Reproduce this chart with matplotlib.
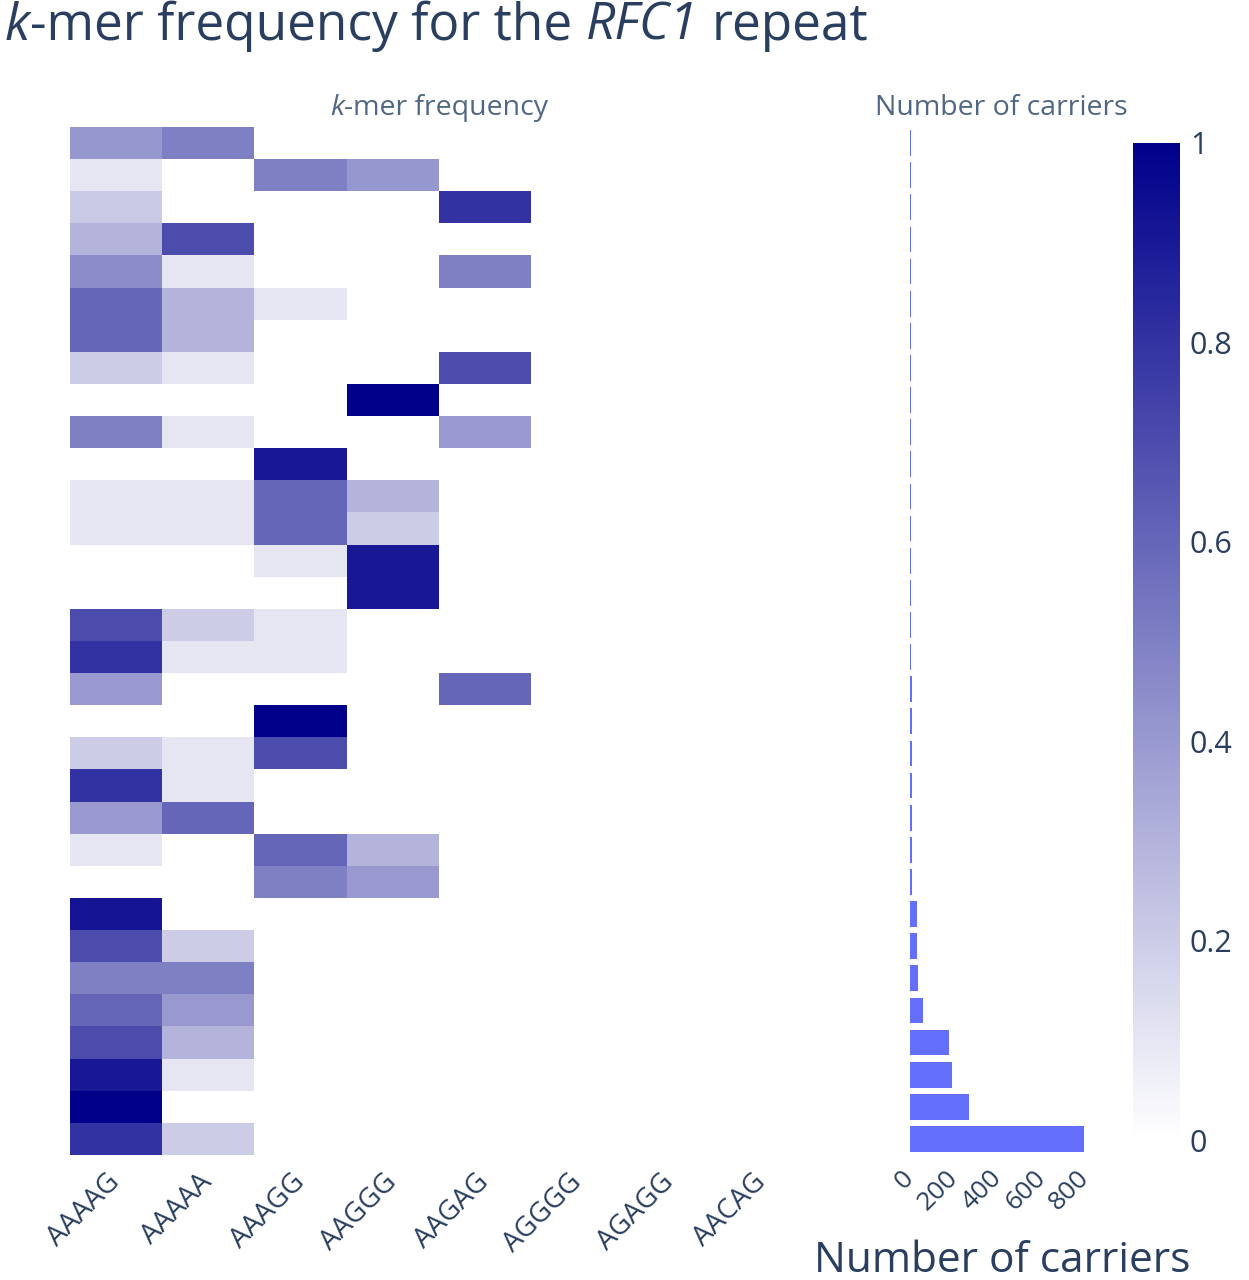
import numpy as np
import matplotlib
matplotlib.use("Agg")
import matplotlib.pyplot as plt
from matplotlib.colors import LinearSegmentedColormap

plt.rcParams['font.family'] = ['Open Sans', 'DejaVu Sans']

# ---------------- data ----------------
kmers = ["AAAAG", "AAAAA", "AAAGG", "AAGGG", "AAGAG", "AGGGG", "AGAGG", "AACAG"]

# k-mer frequency per repeat configuration (32 rows, top to bottom)
freq_AAAAG = [0.41, 0.10, 0.21, 0.30, 0.45, 0.60, 0.60, 0.20, 0.00, 0.50, 0.00, 0.10, 0.10, 0.00, 0.00, 0.70,
              0.80, 0.40, 0.00, 0.20, 0.80, 0.40, 0.10, 0.00, 0.92, 0.70, 0.50, 0.60, 0.70, 0.90, 1.00, 0.80]
freq_AAAAA = [0.50, 0.00, 0.00, 0.70, 0.10, 0.30, 0.30, 0.10, 0.00, 0.10, 0.00, 0.10, 0.10, 0.00, 0.00, 0.20,
              0.10, 0.00, 0.00, 0.10, 0.10, 0.60, 0.00, 0.00, 0.00, 0.20, 0.50, 0.40, 0.30, 0.10, 0.00, 0.20]
freq_AAAGG = [0.00, 0.50, 0.00, 0.00, 0.00, 0.10, 0.00, 0.00, 0.00, 0.00, 0.90, 0.60, 0.60, 0.10, 0.00, 0.10,
              0.10, 0.00, 1.00, 0.70, 0.00, 0.00, 0.60, 0.50, 0.00, 0.00, 0.00, 0.00, 0.00, 0.00, 0.00, 0.00]
freq_AAGGG = [0.00, 0.41, 0.00, 0.00, 0.00, 0.00, 0.00, 0.00, 1.00, 0.00, 0.00, 0.30, 0.20, 0.90, 0.90, 0.00,
              0.00, 0.00, 0.00, 0.00, 0.00, 0.00, 0.30, 0.40, 0.00, 0.00, 0.00, 0.00, 0.00, 0.00, 0.00, 0.00]
freq_AAGAG = [0.00, 0.00, 0.80, 0.00, 0.50, 0.00, 0.00, 0.70, 0.00, 0.40, 0.00, 0.00, 0.00, 0.00, 0.00, 0.00,
              0.00, 0.60, 0.00, 0.00, 0.00, 0.00, 0.00, 0.00, 0.00, 0.00, 0.00, 0.00, 0.00, 0.00, 0.00, 0.00]
freq_AGGGG = [0.0] * 32
freq_AGAGG = [0.0] * 32
freq_AACAG = [0.0] * 32

# number of carriers per row (top to bottom)
carriers = [3, 3, 3, 3, 4, 4, 4, 4, 5, 5, 5, 5, 5, 6, 6, 6,
            6, 7, 7, 7, 8, 8, 9, 10, 30, 33, 35, 58, 180, 190, 268, 795]

cbar_ticks = [0, 0.2, 0.4, 0.6, 0.8, 1]
cbar_labels = ["0", "0.2", "0.4", "0.6", "0.8", "1"]
bar_ticks = [0, 200, 400, 600, 800]

# ---------------- figure ----------------
W, H = 1249, 1280
fig = plt.figure(figsize=(W / 100, H / 100), dpi=100)
TXT = '#2a3f5f'
SUB = '#506784'

def px_rect(x0, y0, x1, y1):
    return [x0 / W, 1 - y1 / H, (x1 - x0) / W, (y1 - y0) / H]

matrix = np.column_stack([freq_AAAAG, freq_AAAAA, freq_AAAGG, freq_AAGGG,
                          freq_AAGAG, freq_AGGGG, freq_AGAGG, freq_AACAG])
cmap = LinearSegmentedColormap.from_list("wn", ["#ffffff", "#00008b"])

ax = fig.add_axes(px_rect(70, 127, 808, 1155))
im = ax.imshow(matrix, cmap=cmap, vmin=0, vmax=1, aspect='auto', interpolation='nearest')
ax.set_xticks(range(len(kmers)))
ax.set_xticklabels(kmers, rotation=45, ha='right', va='center', rotation_mode='anchor',
                   fontsize=20, color=TXT)
ax.set_yticks([])
ax.tick_params(axis='x', length=0, pad=17)
for s in ax.spines.values():
    s.set_visible(False)

ax2 = fig.add_axes(px_rect(910, 127, 1093, 1155))
ax2.barh(np.arange(len(carriers)), carriers, height=0.8, color='#636efa')
ax2.set_ylim(len(carriers) - 0.5, -0.5)
ax2.set_xlim(0, 835)
ax2.set_xticks(bar_ticks)
ax2.set_xticklabels([str(t) for t in bar_ticks], rotation=45, ha='right', va='center',
                    rotation_mode='anchor', fontsize=19, color=TXT)
ax2.set_yticks([])
ax2.tick_params(axis='x', length=0, pad=14)
for s in ax2.spines.values():
    s.set_visible(False)

cax = fig.add_axes(px_rect(1133, 143, 1180, 1140))
cb = fig.colorbar(im, cax=cax)
cb.outline.set_visible(False)
cb.set_ticks(cbar_ticks)
cb.set_ticklabels(cbar_labels)
cax.tick_params(length=0, pad=7, labelsize=22, labelcolor=TXT)

# ---------------- rich text helper ----------------
renderer = fig.canvas.get_renderer()

def text_width(s, size, style):
    t = fig.text(0, 0, s, fontsize=size, fontstyle=style)
    w = t.get_window_extent(renderer).width
    t.remove()
    return w

def rich(x_px, y_px, pieces, size, color, align='left'):
    space = text_width("a a", size, 'normal') - text_width("aa", size, 'normal')
    widths = []
    for s, st in pieces:
        widths.append(space if s == ' ' else text_width(s, size, st))
    total = sum(widths)
    x = x_px if align == 'left' else x_px - total / 2
    for (s, st), w in zip(pieces, widths):
        if s != ' ':
            fig.text(x / W, 1 - y_px / H, s, fontsize=size, fontstyle=st, color=color,
                     ha='left', va='baseline')
        x += w

rich(5, 40, [("k", 'italic'), ("-mer frequency for the", 'normal'), (' ', 'normal'),
             ("RFC1", 'italic'), (' ', 'normal'), ("repeat", 'normal')], 37, TXT)
rich(439, 115, [("k", 'italic'), ("-mer frequency", 'normal')], 20.5, SUB, align='center')
fig.text(1001 / W, 1 - 115 / H, "Number of carriers", fontsize=20.5, color=SUB,
         ha='center', va='baseline')
fig.text(1002 / W, 1 - 1272 / H, "Number of carriers", fontsize=30.5, color=TXT,
         ha='center', va='baseline')

fig.savefig("out.png", dpi=100, facecolor='white')
